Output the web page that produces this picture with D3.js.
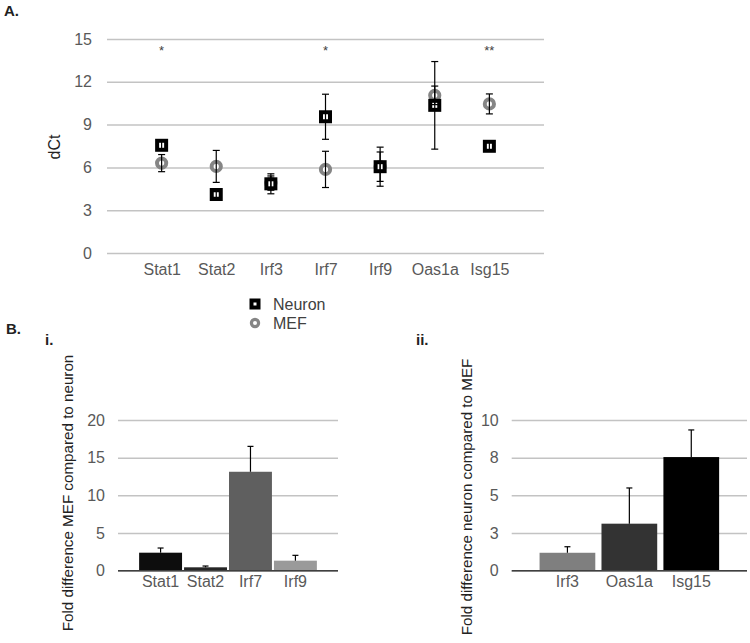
<!DOCTYPE html>
<html><head><meta charset="utf-8">
<script src="https://cdn.jsdelivr.net/npm/d3@7"></script>
<style>body{margin:0;background:#fff}svg{display:block;font-family:"Liberation Sans",Arial,sans-serif}</style>
</head><body>
<svg id="c" width="750" height="643"></svg>
<script>
// ---- Panel A data ----
const genesA = ["Stat1","Stat2","Irf3","Irf7","Irf9","Oas1a","Isg15"];
const neuronVals = [7.55, 4.1, 4.85, 9.55, 6.05, 10.35, 7.48];
const neuronErr  = [0.3, 0.2, 0.7, 1.58, 1.03, 3.07, 0.3];
const mefVals    = [6.3, 6.07, 4.9, 5.86, 6.05, 11.05, 10.45];
const mefErr     = [0.6, 1.12, 0.5, 1.27, 1.37, 0.65, 0.7];
const sigMarks   = ["*", "", "", "*", "", "", "**"];
const ticksA     = [0, 3, 6, 9, 12, 15];
// ---- Panel B i data ----
const genesBi  = ["Stat1","Stat2","Irf7","Irf9"];
const foldBi   = [2.39, 0.45, 13.13, 1.33];
const errBi    = [0.62, 0.17, 3.37, 0.71];
const colorsBi = ["#0d0d0d","#262626","#5f5f5f","#9a9a9a"];
const ticksBi  = [0, 5, 10, 15, 20];
// ---- Panel B ii data ----
const genesBii  = ["Irf3","Oas1a","Isg15"];
const foldBii   = [1.19, 3.12, 7.54];
const errBii    = [0.4, 2.37, 1.8];
const colorsBii = ["#7f7f7f","#333333","#000000"];
const ticksBii  = [0, 2.5, 5, 7.5, 10];
const tickLabelsBii = ["0","3","5","8","10"];

const svg = d3.select("#c");
const tickColor = "#595959", gridColor = "#c3c3c3";

// ===== Panel A =====
const xA = d3.scalePoint().domain(genesA).range([107, 544]).padding(1);
const yA = d3.scaleLinear().domain([0, 15]).range([253, 39]);
const gA = svg.append("g");
gA.append("g").attr("transform","translate(107,0)")
  .call(d3.axisLeft(yA).tickValues(ticksA).tickSize(-437).tickPadding(15))
  .call(g => { g.select(".domain").remove();
    g.selectAll(".tick line").attr("stroke", gridColor).attr("stroke-width", 1.5);
    g.selectAll(".tick text").attr("fill", tickColor).attr("font-size", 16).attr("font-family","Liberation Sans, Arial, sans-serif"); });
gA.append("g").attr("transform","translate(0,253)")
  .call(d3.axisBottom(xA).tickSize(0).tickPadding(11))
  .call(g => { g.select(".domain").remove();
    g.selectAll(".tick text").attr("fill", tickColor).attr("font-size", 16).attr("font-family","Liberation Sans, Arial, sans-serif"); });
svg.append("text").attr("transform","translate(60,147) rotate(-90)").attr("text-anchor","middle")
  .attr("font-size",16).attr("fill","#222").text("dCt");
svg.append("text").attr("x",4).attr("y",16).attr("font-size",15).attr("font-weight","bold").attr("fill","#222").text("A.");

const mef = genesA.map((g,i)=>({g, v:mefVals[i], e:mefErr[i]}));
const neu = genesA.map((g,i)=>({g, v:neuronVals[i], e:neuronErr[i]}));
gA.selectAll("circle.mef").data(mef).join("circle")
  .attr("cx", d=>xA(d.g)).attr("cy", d=>yA(d.v)).attr("r", 4.6)
  .attr("fill","#fff").attr("stroke","#858585").attr("stroke-width",4);
gA.selectAll("rect.neu").data(neu).join("rect")
  .attr("x", d=>xA(d.g)-6.5).attr("y", d=>yA(d.v)-6.5).attr("width",13).attr("height",13).attr("fill","#000");
gA.selectAll("rect.neuin").data(neu).join("rect")
  .attr("x", d=>xA(d.g)-2.5).attr("y", d=>yA(d.v)-2.5).attr("width",5).attr("height",5).attr("fill","#fff");
function errBars(sel, data){
  const g = sel.append("g").attr("stroke","#000").attr("stroke-width",1.2);
  data.forEach(d=>{
    const x = xA(d.g), y1 = yA(d.v - d.e), y2 = yA(d.v + d.e);
    g.append("line").attr("x1",x).attr("x2",x).attr("y1",y1).attr("y2",y2);
    g.append("line").attr("x1",x-3.5).attr("x2",x+3.5).attr("y1",y1).attr("y2",y1);
    g.append("line").attr("x1",x-3.5).attr("x2",x+3.5).attr("y1",y2).attr("y2",y2);
  });
}
errBars(gA, mef);
errBars(gA, neu);
gA.selectAll("text.sig").data(genesA).join("text")
  .attr("x", d=>xA(d)).attr("y", 55).attr("text-anchor","middle").attr("font-size",13).attr("fill","#404040")
  .text((d,i)=>sigMarks[i]);

// Legend
const leg = svg.append("g");
leg.append("rect").attr("x",249.5).attr("y",298.5).attr("width",11).attr("height",11).attr("fill","#000");
leg.append("rect").attr("x",253.5).attr("y",302.5).attr("width",3).attr("height",3).attr("fill","#fff");
leg.append("circle").attr("cx",255).attr("cy",323).attr("r",3.6).attr("fill","#fff").attr("stroke","#858585").attr("stroke-width",3.2);
leg.append("text").attr("x",273).attr("y",310).attr("font-size",16).attr("fill","#404040").text("Neuron");
leg.append("text").attr("x",273).attr("y",329).attr("font-size",16).attr("fill","#404040").text("MEF");

// ===== Panel B =====
svg.append("text").attr("x",6).attr("y",334).attr("font-size",15).attr("font-weight","bold").attr("fill","#222").text("B.");
svg.append("text").attr("x",45).attr("y",345).attr("font-size",15).attr("font-weight","bold").attr("fill","#222").text("i.");
svg.append("text").attr("x",416).attr("y",345).attr("font-size",15).attr("font-weight","bold").attr("fill","#222").text("ii.");

function barPanel(cfg){
  const x = d3.scaleBand().domain(cfg.cats).range(cfg.xr).paddingInner(cfg.pi).paddingOuter(cfg.po);
  const y = d3.scaleLinear().domain(cfg.yd).range([570.7, 420]);
  const g = svg.append("g");
  g.append("g").attr("transform",`translate(${cfg.xr[0]},0)`)
    .call(d3.axisLeft(y).tickValues(cfg.ticks).tickSize(-(cfg.xr[1]-cfg.xr[0])).tickPadding(cfg.tp)
      .tickFormat((d,i)=>cfg.tickLabels ? cfg.tickLabels[i] : d))
    .call(a => { a.select(".domain").remove();
      a.selectAll(".tick line").attr("stroke", gridColor).attr("stroke-width",1.5);
      a.selectAll(".tick text").attr("fill", tickColor).attr("font-size",16).attr("font-family","Liberation Sans, Arial, sans-serif"); });
  g.selectAll("rect.bar").data(cfg.cats).join("rect")
    .attr("x", d=>x(d)).attr("width", x.bandwidth())
    .attr("y", (d,i)=>y(cfg.vals[i])).attr("height",(d,i)=>y(0)-y(cfg.vals[i]))
    .attr("fill",(d,i)=>cfg.colors[i]);
  g.append("line").attr("x1",cfg.xr[0]).attr("x2",cfg.xr[1]).attr("y1",y(0)).attr("y2",y(0))
    .attr("stroke","#404040").attr("stroke-width",1.5);
  const eg = g.append("g").attr("stroke","#000").attr("stroke-width",1.2);
  cfg.cats.forEach((c,i)=>{
    const cx = x(c)+x.bandwidth()/2, y1 = y(cfg.vals[i]), y2 = y(cfg.vals[i]+cfg.errs[i]);
    eg.append("line").attr("x1",cx).attr("x2",cx).attr("y1",y1).attr("y2",y2);
    eg.append("line").attr("x1",cx-3).attr("x2",cx+3).attr("y1",y2).attr("y2",y2);
  });
  g.append("g").attr("transform","translate(0,570.7)")
    .call(d3.axisBottom(x).tickSize(0).tickPadding(5))
    .call(a => { a.select(".domain").remove();
      a.selectAll(".tick text").attr("fill", tickColor).attr("font-size",16).attr("font-family","Liberation Sans, Arial, sans-serif"); });
  svg.append("text").attr("transform",`translate(${cfg.tx},${cfg.ty}) rotate(-90)`).attr("text-anchor","middle")
    .attr("font-size",cfg.tfs).attr("fill","#222").text(cfg.title);
}
barPanel({cats:genesBi, vals:foldBi, errs:errBi, colors:colorsBi, ticks:ticksBi, yd:[0,20],
  xr:[118,338], pi:0.045, po:0.47, tp:13, tx:73, ty:493, tfs:15.2, title:"Fold difference MEF compared to neuron"});
barPanel({cats:genesBii, vals:foldBii, errs:errBii, colors:colorsBii, ticks:ticksBii, tickLabels:tickLabelsBii, yd:[0,10],
  xr:[511.7,747], pi:0.1, po:0.45, tp:13, tx:472, ty:497, tfs:15.2, title:"Fold difference neuron compared to MEF"});
</script>
</body></html>
